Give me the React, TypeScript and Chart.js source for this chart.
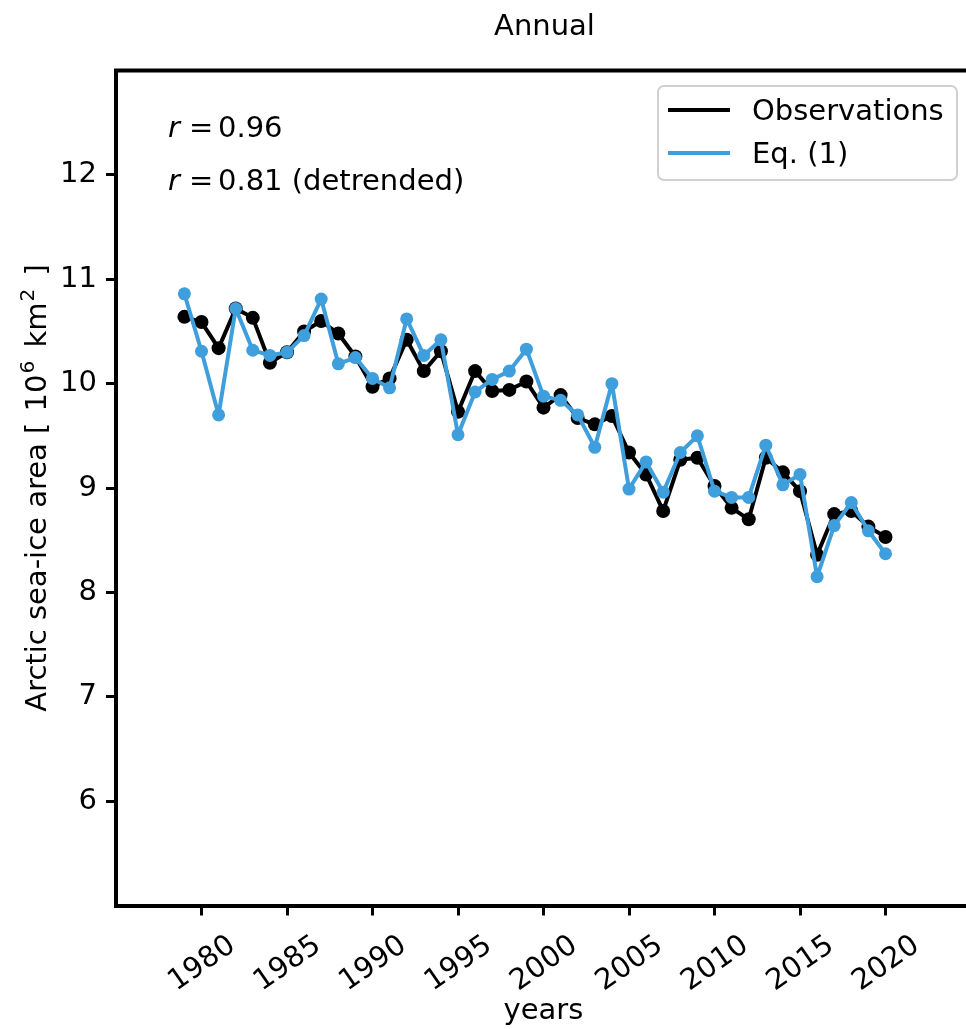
import React, { useEffect, useRef } from 'react';
import { Chart, registerables } from 'chart.js';

Chart.register(...registerables);

const years = [
  1979, 1980, 1981, 1982, 1983, 1984, 1985, 1986, 1987, 1988, 1989,
  1990, 1991, 1992, 1993, 1994, 1995, 1996, 1997, 1998, 1999,
  2000, 2001, 2002, 2003, 2004, 2005, 2006, 2007, 2008, 2009,
  2010, 2011, 2012, 2013, 2014, 2015, 2016, 2017, 2018, 2019, 2020,
];

const observations = [
  10.64, 10.59, 10.34, 10.72, 10.63, 10.20, 10.30, 10.50, 10.60, 10.48, 10.26,
  9.97, 10.05, 10.42, 10.12, 10.31, 9.73, 10.12, 9.93, 9.94, 10.02,
  9.77, 9.89, 9.67, 9.61, 9.69, 9.34, 9.13, 8.78, 9.27, 9.29,
  9.02, 8.81, 8.70, 9.29, 9.15, 8.97, 8.36, 8.75, 8.78, 8.63, 8.53,
];

const eq1 = [
  10.86, 10.31, 9.70, 10.72, 10.32, 10.27, 10.30, 10.46, 10.81, 10.19, 10.25,
  10.05, 9.96, 10.62, 10.27, 10.42, 9.51, 9.92, 10.04, 10.12, 10.33,
  9.88, 9.84, 9.70, 9.39, 10.00, 8.99, 9.25, 8.96, 9.34, 9.50,
  8.97, 8.91, 8.91, 9.41, 9.03, 9.13, 8.15, 8.64, 8.86, 8.59, 8.37,
];

const xTickValues = [1980, 1985, 1990, 1995, 2000, 2005, 2010, 2015, 2020];
const yTickValues = [6, 7, 8, 9, 10, 11, 12];

const FONT = '"DejaVu Sans", sans-serif';
const FS = 29;
const BLUE = '#3f9edc';
const W = 990;
const H = 1029;

function drawR(ctx: CanvasRenderingContext2D, x: number, y: number, rest: string) {
  ctx.textAlign = 'left';
  ctx.textBaseline = 'alphabetic';
  ctx.font = `italic ${FS}px ${FONT}`;
  ctx.fillText('r', x, y);
  ctx.font = `${FS}px ${FONT}`;
  ctx.fillText('=', x + 21, y);
  ctx.fillText(rest, x + 50, y);
}

const decor = {
  id: 'decor',
  afterDraw(chart: any) {
    const ctx: CanvasRenderingContext2D = chart.ctx;
    const a = chart.chartArea;
    ctx.save();
    // top & right spines
    ctx.strokeStyle = '#000';
    ctx.lineWidth = 4;
    ctx.beginPath();
    ctx.moveTo(a.left - 2, a.top);
    ctx.lineTo(a.right + 2, a.top);
    ctx.moveTo(a.right, a.top);
    ctx.lineTo(a.right, a.bottom);
    ctx.stroke();

    // title
    ctx.fillStyle = '#000';
    ctx.font = `${FS}px ${FONT}`;
    ctx.textAlign = 'center';
    ctx.textBaseline = 'alphabetic';
    ctx.fillText('Annual', (a.left + a.right) / 2 + 1, 35);

    // annotations
    drawR(ctx, 168, 137, '0.96');
    drawR(ctx, 168, 190, '0.81 (detrended)');

    // legend
    const lx = 658, ly = 86, lw = 299, lh = 94;
    ctx.beginPath();
    (ctx as any).roundRect(lx, ly, lw, lh, 6);
    ctx.fillStyle = 'rgba(255,255,255,0.8)';
    ctx.fill();
    ctx.strokeStyle = '#d0d0d0';
    ctx.lineWidth = 2;
    ctx.stroke();
    ctx.lineWidth = 4;
    ctx.strokeStyle = '#000';
    ctx.beginPath();
    ctx.moveTo(668, 110);
    ctx.lineTo(730, 110);
    ctx.stroke();
    ctx.strokeStyle = BLUE;
    ctx.beginPath();
    ctx.moveTo(668, 153);
    ctx.lineTo(730, 153);
    ctx.stroke();
    ctx.fillStyle = '#000';
    ctx.font = `${FS}px ${FONT}`;
    ctx.textAlign = 'left';
    ctx.textBaseline = 'alphabetic';
    ctx.fillText('Observations', 752, 120);
    ctx.fillText('Eq. (1)', 752, 163);

    // y axis title with superscripts
    const pieces = [
      { t: 'Arctic sea-ice area [ ', sup: false, gap: 2 },
      { t: '10', sup: false, gap: 1 },
      { t: '6', sup: true, gap: 4 },
      { t: ' km', sup: false, gap: 1 },
      { t: '2', sup: true, gap: 4 },
      { t: ' ]', sup: false, gap: 0 },
    ];
    const supFont = `${Math.round(FS * 0.7)}px ${FONT}`;
    const mainFont = `${FS}px ${FONT}`;
    let total = 0;
    for (const p of pieces) {
      ctx.font = p.sup ? supFont : mainFont;
      total += ctx.measureText(p.t).width + p.gap;
    }
    ctx.save();
    ctx.translate(45.5, (a.top + a.bottom) / 2);
    ctx.rotate(-Math.PI / 2);
    let cx = -total / 2;
    for (const p of pieces) {
      ctx.font = p.sup ? supFont : mainFont;
      ctx.fillText(p.t, cx, p.sup ? -12 : 0);
      cx += ctx.measureText(p.t).width + p.gap;
    }
    ctx.restore();

    ctx.restore();
  },
};

export default function App() {
  const ref = useRef<HTMLCanvasElement | null>(null);

  useEffect(() => {
    if (!ref.current) return;
    const obsData = years.map((y, i) => ({ x: y, y: observations[i] }));
    const eqData = years.map((y, i) => ({ x: y, y: eq1[i] }));
    const chart = new Chart(ref.current, {
      type: 'line',
      data: {
        datasets: [
          {
            label: 'Observations',
            data: obsData,
            borderColor: '#000',
            backgroundColor: '#000',
            pointBackgroundColor: '#000',
            pointBorderWidth: 0,
            pointRadius: 7,
            borderWidth: 4,
            borderJoinStyle: 'round',
            borderCapStyle: 'round',
            tension: 0,
            order: 2,
          },
          {
            label: 'Eq. (1)',
            data: eqData,
            borderColor: BLUE,
            backgroundColor: BLUE,
            pointBackgroundColor: BLUE,
            pointBorderWidth: 0,
            pointRadius: 6.5,
            borderWidth: 4,
            borderJoinStyle: 'round',
            borderCapStyle: 'round',
            tension: 0,
            order: 1,
          },
        ],
      },
      options: {
        animation: false,
        responsive: false,
        devicePixelRatio: 1,
        layout: { padding: { left: 0, right: W - 971, top: 70.5, bottom: 0 } },
        plugins: {
          legend: { display: false },
          tooltip: { enabled: false },
          title: { display: false },
        },
        scales: {
          x: {
            type: 'linear',
            min: 1975,
            max: 2025,
            afterFit: (s: any) => { s.height = H - 905.5; },
            afterBuildTicks: (s: any) => { s.ticks = xTickValues.map((v) => ({ value: v })); },
            ticks: {
              autoSkip: false,
              minRotation: 35,
              maxRotation: 35,
              padding: 13,
              labelOffset: 31,
              color: '#000',
              font: { family: FONT, size: FS },
              callback: (v: any) => String(v),
            },
            grid: {
              drawOnChartArea: false,
              drawTicks: true,
              tickLength: 10,
              tickWidth: 3,
              tickColor: '#000',
            },
            border: { display: true, color: '#000', width: 4 },
            title: {
              display: true,
              text: 'years',
              color: '#000',
              font: { family: FONT, size: FS },
              padding: { top: 0, bottom: 0 },
            },
          },
          y: {
            type: 'linear',
            min: 5,
            max: 13,
            afterFit: (s: any) => { s.width = 116; },
            afterBuildTicks: (s: any) => { s.ticks = yTickValues.map((v) => ({ value: v })); },
            ticks: {
              padding: 9,
              color: '#000',
              font: { family: FONT, size: FS },
              callback: (v: any) => String(v),
            },
            grid: {
              drawOnChartArea: false,
              drawTicks: true,
              tickLength: 10,
              tickWidth: 3,
              tickColor: '#000',
            },
            border: { display: true, color: '#000', width: 4 },
          },
        },
      },
      plugins: [decor],
    });
    return () => chart.destroy();
  }, []);

  return (
    <div style={{ position: 'absolute', left: 0, top: 0, width: 966, height: H, overflow: 'hidden', background: '#fff' }}>
      <canvas ref={ref} width={W} height={H} style={{ width: W, height: H, display: 'block' }} />
    </div>
  );
}
